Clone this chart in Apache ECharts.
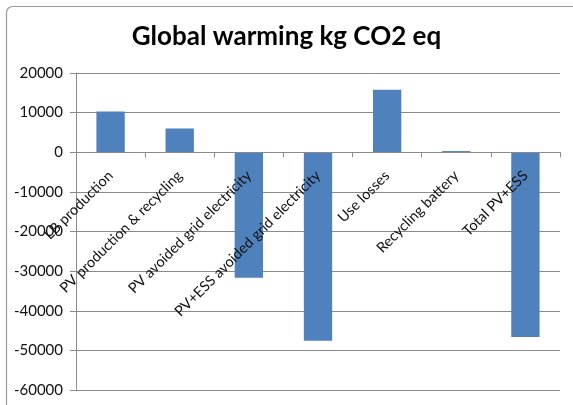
<!DOCTYPE html>
<html>
<head>
<meta charset="utf-8">
<script src="https://cdn.jsdelivr.net/npm/echarts@6/dist/echarts.min.js"></script>
<style>
  html, body { margin: 0; padding: 0; background: #fff; }
  #chart { width: 573px; height: 405px; }
</style>
</head>
<body>
<div id="chart"></div>
<script>
// Life-cycle stages and their global warming contribution (kg CO2 eq)
const categories = [
  'LB production',
  'PV production & recycling',
  'PV avoided grid electricity',
  'PV+ESS avoided grid electricity',
  'Use losses',
  'Recycling battery',
  'Total PV+ESS'
];
const values = [10300, 6000, -31700, -47600, 15800, 300, -46600];
const yTicks = { min: -60000, max: 20000, step: 10000 };
const titleText = 'Global warming kg CO2 eq';

const chart = echarts.init(document.getElementById('chart'), null, { renderer: 'canvas' });
const font = 'Lato, "Open Sans", sans-serif';
const gridBox = { left: 76, right: 13, top: 73, bottom: 15 };

chart.setOption({
  animation: false,
  backgroundColor: '#ffffff',
  graphic: [{
    // chart-area frame; its right and bottom sides run past the canvas
    type: 'rect',
    shape: { x: 6.5, y: 6.5, width: 640, height: 460, r: 6 },
    style: { fill: 'none', stroke: '#9a9a9a', lineWidth: 1.2 },
    silent: true
  }],
  title: {
    text: titleText,
    left: 'center',
    top: 19,
    textStyle: { fontFamily: font, fontWeight: 'bold', fontSize: 26, color: '#000' }
  },
  grid: Object.assign({ containLabel: false, outerBoundsMode: 'none' }, gridBox),
  xAxis: {
    type: 'category',
    data: categories,
    position: 'bottom',
    z: 5,
    axisLine: { onZero: false, lineStyle: { color: '#8a8a8a', width: 1 } },
    axisTick: { show: true, alignWithLabel: false, length: 5, lineStyle: { color: '#8a8a8a' } },
    axisLabel: {
      interval: 0,
      rotate: 45,
      margin: 21,
      fontFamily: font,
      fontSize: 14.5,
      color: '#111'
    },
    splitLine: { show: false }
  },
  yAxis: {
    type: 'value',
    min: yTicks.min,
    max: yTicks.max,
    interval: yTicks.step,
    axisLine: { show: true, lineStyle: { color: '#8a8a8a', width: 1 } },
    axisTick: { show: true, length: 6, lineStyle: { color: '#8a8a8a' } },
    axisLabel: {
      fontFamily: font, fontSize: 15, color: '#111', margin: 13,
      formatter: v => String(v)
    },
    splitLine: { show: true, lineStyle: { color: '#8a8a8a', width: 1 } }
  },
  series: [{
    type: 'bar',
    data: values,
    barWidth: '41%',
    itemStyle: { color: '#4F81BD' }
  }]
});

// Lift the category axis (line, ticks and labels) up to the zero line
const zeroY = chart.convertToPixel({ yAxisIndex: 0 }, 0);
const bottomY = 405 - gridBox.bottom;
chart.setOption({ xAxis: { offset: -(bottomY - zeroY) } });
</script>
</body>
</html>
